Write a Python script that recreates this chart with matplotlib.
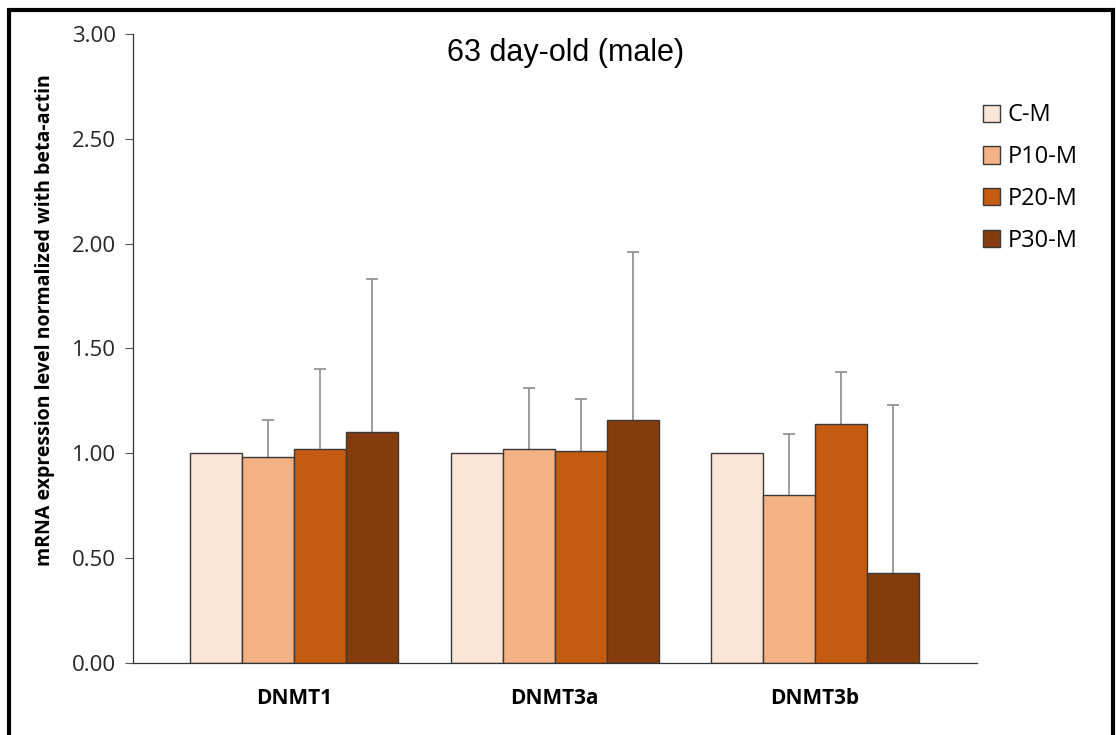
import matplotlib
matplotlib.use("Agg")
import matplotlib.pyplot as plt
import numpy as np
from matplotlib.patches import Rectangle

GENES = ["DNMT1", "DNMT3a", "DNMT3b"]
GROUPS = ["C-M", "P10-M", "P20-M", "P30-M"]
MEANS = {
    "C-M":   [1.00, 1.00, 1.00],
    "P10-M": [0.98, 1.02, 0.80],
    "P20-M": [1.02, 1.01, 1.14],
    "P30-M": [1.10, 1.16, 0.43],
}
# upper error (SD) only; control has none
ERRS = {
    "C-M":   [0.00, 0.00, 0.00],
    "P10-M": [0.18, 0.29, 0.29],
    "P20-M": [0.38, 0.25, 0.25],
    "P30-M": [0.73, 0.80, 0.80],
}
COLORS = {
    "C-M":   "#FBE5D6",
    "P10-M": "#F4B183",
    "P20-M": "#C55A11",
    "P30-M": "#843C0C",
}

plt.rcParams["font.family"] = ["Open Sans", "DejaVu Sans"]

fig = plt.figure(figsize=(11.16, 7.35), dpi=100)
ax = fig.add_axes([0.1192, 0.098, 0.7563, 0.8558])

x = np.arange(len(GENES))
w = 0.2
for i, g in enumerate(GROUPS):
    pos = x + (i - 1.5) * w
    mean = np.array(MEANS[g])
    err = np.array(ERRS[g])
    ax.bar(pos, mean, width=w, color=COLORS[g], edgecolor="#3a3a3a",
           linewidth=1.0, label=g, zorder=2)
    has = err > 0
    if has.any():
        ax.vlines(pos[has], mean[has], mean[has] + err[has], color="#8c8c8c",
                  linewidth=1.2, zorder=1)
        ax.plot(pos[has], mean[has] + err[has], linestyle="none", marker="_",
                markersize=8, markeredgewidth=1.2, color="#8c8c8c", zorder=1)

ax.set_xlim(-0.62, 2.623)
ax.set_ylim(0, 3.0)
ticks = np.arange(0, 3.01, 0.5)
ax.set_yticks(ticks)
ax.set_yticklabels([f"{v:.2f}" for v in ticks], fontsize=16, color="#262626")
ax.set_xticks(x)
ax.set_xticklabels(GENES, fontsize=15, fontweight="bold")
ax.tick_params(axis="x", length=0, pad=18)
ax.tick_params(axis="y", length=6, width=0.8, color="#555555", pad=6)
ax.spines[["top", "right"]].set_visible(False)
for s in ("left", "bottom"):
    ax.spines[s].set_color("#333333")
    ax.spines[s].set_linewidth(0.9)

ax.set_ylabel("mRNA expression level normalized with beta-actin", fontsize=14,
              fontweight="bold")
ax.yaxis.set_label_coords(-0.093, 0.545)
ax.text(0.512, 0.97, "63 day-old (male)", transform=ax.transAxes, ha="center",
        va="center", fontsize=22, family="Liberation Sans")

ax.legend(loc="upper left", bbox_to_anchor=(0.99, 0.912), frameon=False,
          fontsize=17, handlelength=0.75, handleheight=0.75,
          labelspacing=0.75, handletextpad=0.3, borderaxespad=0.2)

fig.patches.append(Rectangle((0.008, -0.05), 0.989, 1.036, transform=fig.transFigure,
                             fill=False, edgecolor="black", linewidth=3))

fig.savefig("out.png", dpi=100)
